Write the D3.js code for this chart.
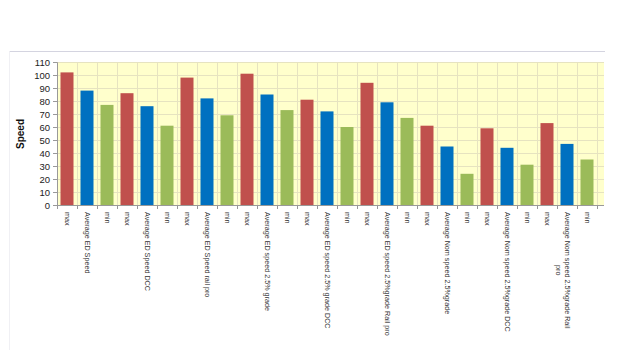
<!DOCTYPE html>
<html><head><meta charset="utf-8">
<script src="https://cdn.jsdelivr.net/npm/d3@7"></script>
<style>body{margin:0;background:#fff}svg{display:block}</style>
</head><body>
<svg id="c" width="640" height="360"></svg>
<script>
const categories = ["max","Average ED Speed","min","max","Average ED Speed  DCC","min","max","Average ED Speed  rail pro","min","max","Average ED speed 2.5% grade","min","max","Average ED speed 2.5% grade DCC","min","max","Average ED speed 2.5%grade Rail pro","min","max","Average Nom speed 2.5%grade","min","max","Average Nom speed 2.5%grade DCC","min","max","Average Nom speed 2.5%grade Rail|pro","min"];
const values = [102,88,77,86,76,61,98,82,69,101,85,73,81,72,60,94,79,67,61,45,24,59,44,31,63,47,35];
const kinds = ["max","avg","min","max","avg","min","max","avg","min","max","avg","min","max","avg","min","max","avg","min","max","avg","min","max","avg","min","max","avg","min"];
const yTicks = [0,10,20,30,40,50,60,70,80,90,100,110];
const colors = {max:"#C0504D", avg:"#0070C0", min:"#9BBB59"};

const svg = d3.select("#c");
const L=57, RC=597, R=604, T=62, B=205;
const x = d3.scaleBand().domain(d3.range(categories.length)).range([L,RC]).paddingInner(0.35).paddingOuter(0.175);
const y = d3.scaleLinear().domain([0,110]).range([B,T]);
const edge = i => L + i*(RC-L)/categories.length;

// outer frame
svg.append("line").attr("x1",9.5).attr("x2",605).attr("y1",51.5).attr("y2",51.5).attr("stroke","#d4d4e0");
svg.append("line").attr("x1",9.5).attr("x2",9.5).attr("y1",51.5).attr("y2",350).attr("stroke","#f0f0f4");

// plot bg
svg.append("rect").attr("x",L).attr("y",T).attr("width",R-L).attr("height",B-T).attr("fill","#FFFFCC");
// grid
const g = svg.append("g").attr("stroke","#e6e3c0").attr("stroke-width",1);
yTicks.forEach(t=>{ g.append("line").attr("x1",L).attr("x2",R).attr("y1",Math.round(y(t))+0.5).attr("y2",Math.round(y(t))+0.5);});
d3.range(categories.length+1).forEach(i=>{ const xx = Math.round(edge(i))+0.5; g.append("line").attr("x1",xx).attr("x2",xx).attr("y1",T).attr("y2",B);});

// bars
svg.append("g").selectAll("rect").data(values).join("rect")
  .attr("x",(d,i)=>x(i)).attr("width",x.bandwidth())
  .attr("y",d=>y(d)).attr("height",d=>B-y(d))
  .attr("fill",(d,i)=>colors[kinds[i]]);

// y axis
const ya = svg.append("g").attr("transform",`translate(${L},0)`)
  .call(d3.axisLeft(y).tickValues(yTicks).tickSize(4).tickPadding(3));
ya.select(".domain").attr("stroke","#999");
ya.selectAll(".tick line").attr("stroke","#999");
ya.selectAll("text").attr("font-family","Liberation Sans, Arial, sans-serif").attr("font-size","9.5px").attr("fill","#222");

// x axis line
svg.append("line").attr("x1",L).attr("x2",R).attr("y1",B+0.5).attr("y2",B+0.5).attr("stroke","#999");
d3.range(categories.length+1).forEach(i=>{ const xx = Math.round(edge(i))+0.5; svg.append("line").attr("x1",xx).attr("x2",xx).attr("y1",B).attr("y2",B+4).attr("stroke","#999");});

// x labels rotated
const xl = svg.append("g");
categories.forEach((c,i)=>{
  const lines = c.split("|");
  const cx = x(i)+x.bandwidth()/2;
  const t = xl.append("text").attr("transform",`translate(${cx},212) rotate(90)`)
    .attr("font-family","Liberation Sans, Arial, sans-serif").attr("font-size","7.2px").attr("fill","#333")
    .attr("text-anchor","start");
  lines.forEach((ln,j)=>{
    t.append("tspan").attr("x",0).attr("dy", j===0?"0.32em":"1.15em").text(ln);
  });
});
xl.selectAll("text").each(function(){
  const ts = d3.select(this).selectAll("tspan");
  if (ts.size()>1){
    const w0 = ts.nodes()[0].getComputedTextLength();
    const w1 = ts.nodes()[1].getComputedTextLength();
    d3.select(ts.nodes()[1]).attr("x",(w0-w1)/2);
  }
});

// y title
svg.append("text").attr("transform","translate(24,134) rotate(-90)").attr("text-anchor","middle")
  .attr("font-family","Liberation Sans, Arial, sans-serif").attr("font-size","10px").attr("font-weight","bold").attr("fill","#111").text("Speed");
</script>
</body></html>
